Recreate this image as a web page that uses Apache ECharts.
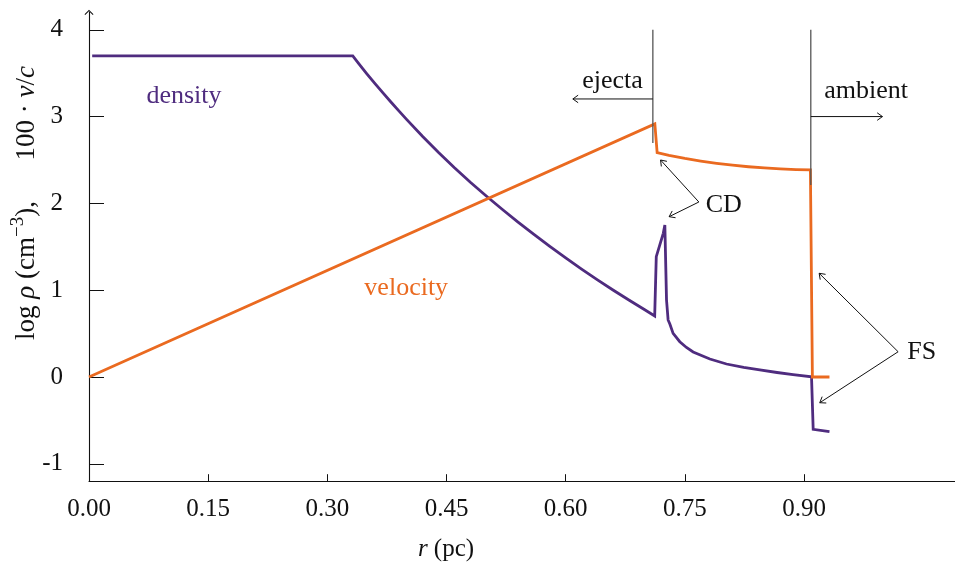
<!DOCTYPE html>
<html>
<head>
<meta charset="utf-8">
<script src="https://cdn.jsdelivr.net/npm/echarts@6/dist/echarts.min.js"></script>
<style>
  html, body { margin: 0; padding: 0; background: #fff; }
  #chart { width: 955px; height: 563px; }
</style>
</head>
<body>
<div id="chart"></div>
<script>
// Radius (pc) and log10 density profile of the remnant
const densityR = [0.004, 0.332, 0.340, 0.350, 0.360, 0.370, 0.380, 0.390, 0.400, 0.420, 0.440, 0.460, 0.480,
                  0.500, 0.520, 0.540, 0.560, 0.580, 0.600, 0.620, 0.640, 0.660, 0.680, 0.700, 0.712,
                  0.714, 0.7228, 0.7248, 0.7269, 0.7289, 0.7311, 0.7352, 0.7436, 0.7520, 0.7604, 0.7815,
                  0.8024, 0.8240, 0.8443, 0.8660, 0.8862, 0.9094, 0.9115, 0.932];
const densityLog = [3.70, 3.70, 3.605, 3.490, 3.380, 3.272, 3.168, 3.066, 2.965, 2.770, 2.585, 2.410, 2.243,
                    2.085, 1.932, 1.785, 1.643, 1.505, 1.372, 1.244, 1.120, 1.000, 0.884, 0.772, 0.703,
                    1.386, 1.655, 1.751, 0.887, 0.657, 0.611, 0.503, 0.407, 0.340, 0.288, 0.207,
                    0.150, 0.112, 0.081, 0.052, 0.027, 0.003, -0.603, -0.630];

// Radius (pc) and 100 * v/c velocity profile
const velocityR = [0.0, 0.7122, 0.7151, 0.730, 0.750, 0.770, 0.790, 0.810, 0.830, 0.850, 0.870, 0.890, 0.908, 0.9105, 0.932];
const velocity = [0.0, 2.915, 2.585, 2.553, 2.518, 2.488, 2.462, 2.440, 2.422, 2.408, 2.397, 2.389, 2.385, 0.0, 0.0];

// Tick values
const xTicks = [0.00, 0.15, 0.30, 0.45, 0.60, 0.75, 0.90];
const yTicks = [-1, 0, 1, 2, 3, 4];

const PURPLE = '#4f2c7f';
const ORANGE = '#ea6a20';
const SERIF = '"Liberation Serif", "DejaVu Serif", serif';

// Region boundaries: contact discontinuity and forward shock
const boundaries = [
  { r: 0.7097, top: 4.0, bottom: 2.696 },
  { r: 0.9085, top: 4.0, bottom: 2.212 }
];
// Annotation arrows [from, to] in (r, value) units
const arrows = [
  [[0.7097, 3.203], [0.609, 3.203]],
  [[0.9085, 3.000], [0.9987, 3.000]],
  [[0.7676, 2.016], [0.7194, 2.500]],
  [[0.7676, 2.016], [0.7302, 1.847]],
  [[1.0184, 0.291], [0.9190, 1.195]],
  [[1.0184, 0.291], [0.9198, -0.296]]
];
const notes = [
  { text: 'ejecta', at: [0.659, 3.404], color: '#111' },
  { text: 'ambient', at: [0.978, 3.289], color: '#111' },
  { text: 'CD', at: [0.799, 1.98], color: '#111' },
  { text: 'FS', at: [1.048, 0.288], color: '#111' },
  { text: 'density', at: [0.1195, 3.23], color: PURPLE },
  { text: 'velocity', at: [0.3993, 1.025], color: ORANGE }
];

const zip = (a, b) => a.map((v, i) => [v, b[i]]);

function arrowElements(api, from, to) {
  const p0 = api.coord(from), p1 = api.coord(to);
  const ang = Math.atan2(p1[1] - p0[1], p1[0] - p0[0]);
  const L = 6.5, spread = 0.62;
  const h1 = [p1[0] - L * Math.cos(ang - spread), p1[1] - L * Math.sin(ang - spread)];
  const h2 = [p1[0] - L * Math.cos(ang + spread), p1[1] - L * Math.sin(ang + spread)];
  const style = { stroke: '#111', lineWidth: 1, fill: null };
  return [
    { type: 'polyline', shape: { points: [p0, p1] }, style },
    { type: 'polyline', shape: { points: [h1, p1, h2] }, style }
  ];
}

function renderAnnotations(params, api) {
  const children = [];
  boundaries.forEach(b => {
    const a = api.coord([b.r, b.top]), c = api.coord([b.r, b.bottom]);
    children.push({
      type: 'line',
      shape: { x1: a[0], y1: a[1], x2: c[0], y2: c[1] },
      style: { stroke: '#555', lineWidth: 1.3 }
    });
  });
  arrows.forEach(a => children.push(...arrowElements(api, a[0], a[1])));
  notes.forEach(n => {
    const p = api.coord(n.at);
    children.push({
      type: 'text', x: p[0], y: p[1],
      style: { text: n.text, fill: n.color, font: '26px ' + SERIF,
               align: 'center', verticalAlign: 'middle',
               textAlign: 'center', textVerticalAlign: 'middle' }
    });
  });
  return { type: 'group', children };
}

const chart = echarts.init(document.getElementById('chart'), null, { renderer: 'canvas' });

chart.setOption({
  animation: false,
  backgroundColor: '#fff',
  grid: { left: 89, right: 0, top: 12.4, bottom: 81.8, containLabel: false },
  xAxis: {
    type: 'value', min: 0, max: 1.09,
    axisLine: { show: true, onZero: false, lineStyle: { color: '#111', width: 1.1 } },
    axisTick: { show: true, inside: true, length: 7, customValues: xTicks, lineStyle: { color: '#111', width: 1 } },
    axisLabel: { customValues: xTicks, margin: 16, color: '#111', fontFamily: SERIF, fontSize: 25,
                 formatter: v => v.toFixed(2) },
    splitLine: { show: false }
  },
  yAxis: {
    type: 'value', min: -1.2, max: 4.2,
    axisLine: { show: true, onZero: false, lineStyle: { color: '#111', width: 1.1 },
                symbol: ['none', 'path://M0,0 L5,5 L4.2,5.8 L0,1.6 L-4.2,5.8 L-5,5 Z'],
                symbolSize: [9, 5.5], symbolOffset: [0, 0] },
    axisTick: { show: true, inside: true, length: 15, customValues: yTicks, lineStyle: { color: '#111', width: 1 } },
    axisLabel: { customValues: yTicks, margin: 26, color: '#111', fontFamily: SERIF, fontSize: 25,
                 formatter: v => String(v) },
    splitLine: { show: false }
  },
  graphic: [
    {
      type: 'text', x: 446, y: 549,
      style: {
        text: '{it|r} (pc)', font: '25px ' + SERIF, fill: '#111',
        align: 'center', verticalAlign: 'middle',
        rich: { it: { fontStyle: 'italic', fontFamily: SERIF, fontSize: 25 } }
      }
    },
    {
      type: 'text', x: 27, y: 203, rotation: Math.PI / 2,
      style: {
        text: '{n|log }{it|ρ}{n| (cm}{sup|−3}{n|),\u2003\u2002100 · }{it|v}{n|/}{it|c}',
        fill: '#111', align: 'center', verticalAlign: 'middle',
        rich: {
          n: { fontFamily: SERIF, fontSize: 27, lineHeight: 36 },
          it: { fontFamily: SERIF, fontSize: 27, fontStyle: 'italic', lineHeight: 36 },
          sup: { fontFamily: SERIF, fontSize: 19, lineHeight: 19, verticalAlign: 'top' }
        }
      }
    }
  ],
  series: [
    {
      name: 'density', type: 'line', data: zip(densityR, densityLog),
      symbol: 'none', smooth: false, z: 2,
      lineStyle: { color: PURPLE, width: 2.8, join: 'miter', miterLimit: 2.5 }
    },
    {
      name: 'velocity', type: 'line', data: zip(velocityR, velocity),
      symbol: 'none', smooth: false, z: 2,
      lineStyle: { color: ORANGE, width: 2.8, join: 'miter', miterLimit: 2.5 }
    },
    {
      name: 'annotations', type: 'custom', data: [[0, 0]], clip: false, z: 5, silent: true,
      renderItem: renderAnnotations
    }
  ]
});
</script>
</body>
</html>
